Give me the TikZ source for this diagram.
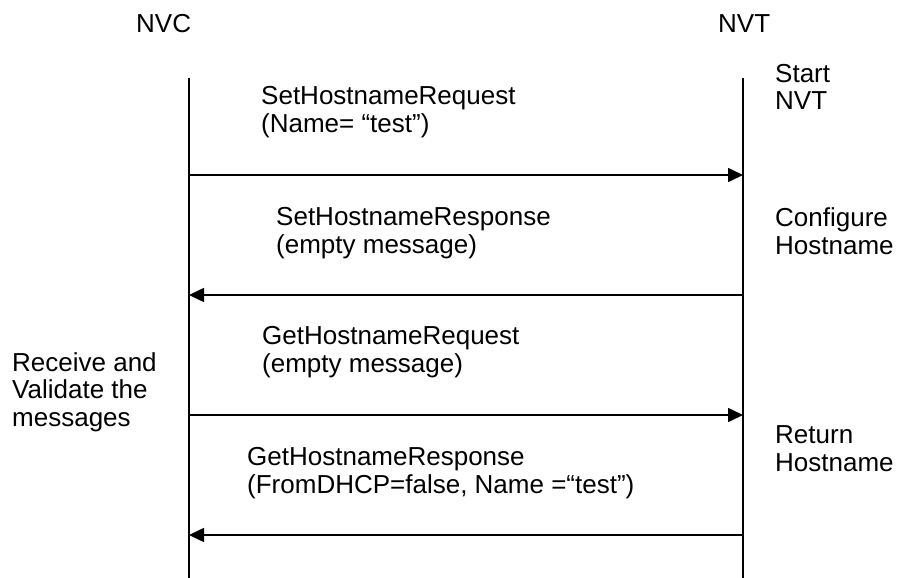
\documentclass[tikz,border=0pt]{standalone}
\usepackage{fontspec}
\setmainfont{Liberation Sans}
\usetikzlibrary{arrows.meta}
\begin{document}
\begin{tikzpicture}[x=1pt,y=-1pt,
  lbl/.style={anchor=base west,inner sep=0pt,align=left,
    font=\fontsize{26}{27.5}\selectfont},
  life/.style={line width=1.6pt},
  msg/.style={line width=1.6pt,-{Triangle[length=15pt,width=14pt]}}]
\useasboundingbox (0,0) rectangle (897,578);
% headers
\node[lbl] (nvc) at (136,33) {NVC};
\node[lbl] (nvt) at (718,33) {NVT};
% lifeline ends
\coordinate (ctop) at (189,78);
\coordinate (cbot) at (189,578);
\coordinate (ttop) at (743,78);
\coordinate (tbot) at (743,578);
\draw[life] (ctop) -- (cbot);
\draw[life] (ttop) -- (tbot);
% message points
\coordinate (c1) at (189,175); \coordinate (t1) at (743,175);
\coordinate (c2) at (189,295); \coordinate (t2) at (743,295);
\coordinate (c3) at (189,415); \coordinate (t3) at (743,415);
\coordinate (c4) at (189,535); \coordinate (t4) at (743,535);
\draw[msg] (c1) -- (t1);
\draw[msg] (t2) -- (c2);
\draw[msg] (c3) -- (t3);
\draw[msg] (t4) -- (c4);
% message labels (base = last line)
\node[lbl] (m1) at (261,132) {SetHostnameRequest\\(Name= “test”)};
\node[lbl] (m2) at (276,253) {SetHostnameResponse\\(empty message)};
\node[lbl] (m3) at (262,372) {GetHostnameRequest\\(empty message)};
\node[lbl] (m4) at (247,493) {GetHostnameResponse\\(FromDHCP=false, Name =“test”)};
% side notes
\node[lbl] (s1) at (775,110) {Start\\NVT};
\node[lbl] (s2) at (775,254) {Configure\\Hostname};
\node[lbl] (s3) at (775,471) {Return\\Hostname};
\node[lbl] (s4) at (12,426) {Receive and\\Validate the\\messages};
\end{tikzpicture}
\end{document}
